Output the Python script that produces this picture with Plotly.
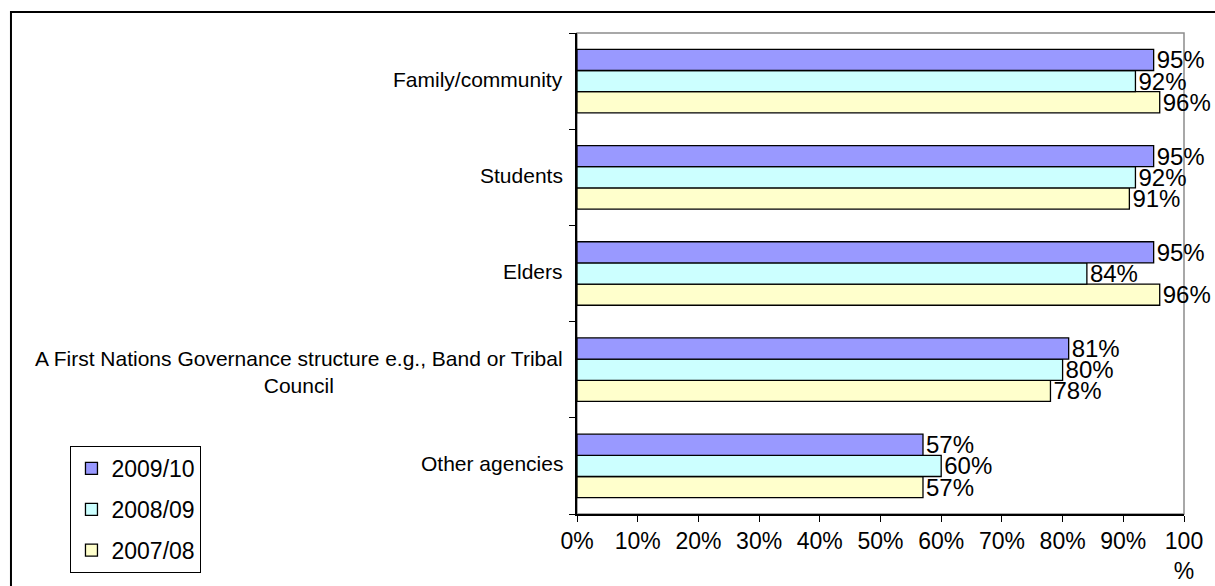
import plotly.graph_objects as go

# categories listed top to bottom as in the chart
categories = [
    "Family/community",
    "Students",
    "Elders",
    "A First Nations Governance structure e.g., Band or Tribal<br>Council",
    "Other agencies",
]
series_names = ["2009/10", "2008/09", "2007/08"]
values_2009_10 = [0.95, 0.95, 0.95, 0.81, 0.57]
values_2008_09 = [0.92, 0.92, 0.84, 0.80, 0.60]
values_2007_08 = [0.96, 0.91, 0.96, 0.78, 0.57]
x_ticks = [0, 0.1, 0.2, 0.3, 0.4, 0.5, 0.6, 0.7, 0.8, 0.9, 1.0]
x_tick_labels = ["0%", "10%", "20%", "30%", "40%", "50%", "60%", "70%", "80%", "90%", "100<br>%"]

colors = {"2009/10": "#9999ff", "2008/09": "#ccffff", "2007/08": "#ffffcc"}
values = {"2009/10": values_2009_10, "2008/09": values_2008_09, "2007/08": values_2007_08}
font = "Arial, Liberation Sans, sans-serif"

fig = go.Figure()

# add in reverse so 2009/10 sits on top of each group
for name in reversed(series_names):
    vals = values[name]
    fig.add_trace(go.Bar(
        y=categories,
        x=vals,
        orientation="h",
        name=name,
        legendgroup=name,
        legendrank=series_names.index(name) + 1,
        marker=dict(color=colors[name], line=dict(color="black", width=1.3)),
        text=[f"{v*100:.0f}%" for v in vals],
        textposition="outside",
        textfont=dict(size=24, color="black", family=font),
        constraintext="none",
        cliponaxis=False,
    ))

# category labels (centered multi-line text)
for cat in categories:
    fig.add_annotation(
        x=0, xref="paper", y=cat, yref="y",
        text=cat, showarrow=False,
        xanchor="right", align="center", xshift=-12,
        yshift=-2 if "<br>" in cat else 2,
        font=dict(size=21, color="black", family=font),
    )

# gray plot-area frame (top/right)
fig.add_shape(type="rect", xref="paper", yref="paper", x0=0, x1=1, y0=0, y1=1,
              line=dict(color="#8c8c8c", width=1.5), layer="below")
# outer chart border
fig.add_shape(type="rect", xref="paper", yref="paper", x0=-0.9325, x1=2, y0=-1, y1=1.0437,
              line=dict(color="black", width=2), layer="below")

fig.update_layout(
    barmode="group",
    bargap=0.34,
    bargroupgap=0,
    width=1215,
    height=586,
    paper_bgcolor="white",
    plot_bgcolor="white",
    margin=dict(l=577, r=31, t=33, b=72, autoexpand=False),
    font=dict(family=font, size=23, color="black"),
    legend=dict(
        xref="container", yref="container",
        x=0.058, y=0.239, xanchor="left", yanchor="top",
        traceorder="grouped", tracegroupgap=8,
        bordercolor="black", borderwidth=1,
        font=dict(size=23, family=font),
    ),
    xaxis=dict(
        range=[0, 1], tickvals=x_ticks, ticktext=x_tick_labels,
        showgrid=False, zeroline=False,
        showline=True, linecolor="black", linewidth=1.5,
        ticks="outside", ticklen=6, tickcolor="black",
        ticklabelstandoff=0,
        tickfont=dict(size=23, family=font),
    ),
    yaxis=dict(
        categoryorder="array", categoryarray=categories[::-1],
        showticklabels=False, showgrid=False,
        showline=True, linecolor="black", linewidth=1.5,
        ticks="outside", ticklen=6, tickcolor="black", tickson="boundaries",
    ),
)

fig.write_html("out.html", config={"displayModeBar": False},
               post_script="document.body.style.margin='0';")
